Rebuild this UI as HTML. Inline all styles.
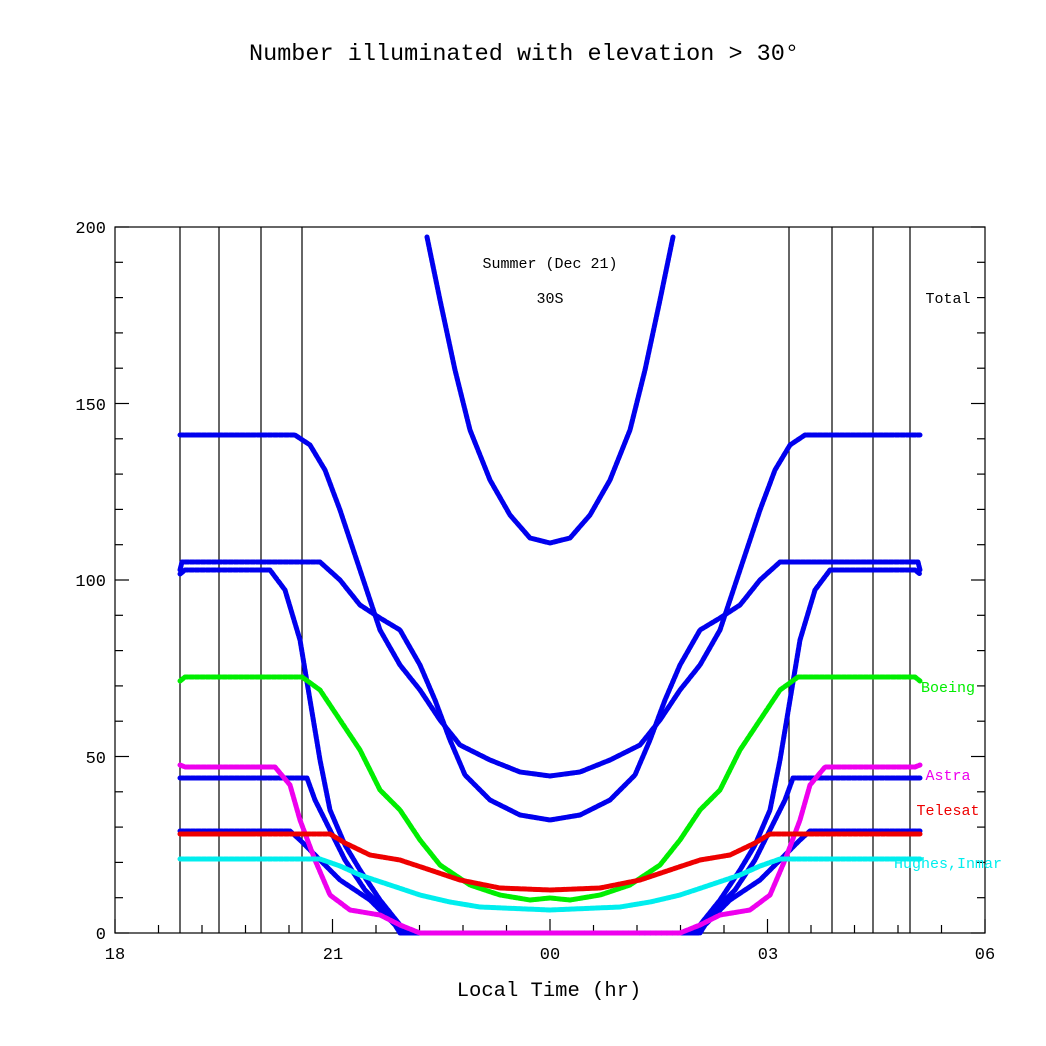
<!DOCTYPE html>
<html><head><meta charset="utf-8"><style>
html,body{margin:0;padding:0;background:#fff}
svg{display:block}
text{font-family:"Liberation Mono",monospace}
</style></head><body>
<svg id="s" width="1046" height="1046" xmlns="http://www.w3.org/2000/svg">
<rect width="1046" height="1046" fill="#fff"/>
<text x="524" y="60" font-size="23.5" text-anchor="middle">Number illuminated with elevation &gt; 30°</text>
<g id="vl" stroke="#000" stroke-width="1.2"></g>
<rect x="115" y="227" width="870" height="706" fill="none" stroke="#000" stroke-width="1.2"/>
<g id="tk" stroke="#000" stroke-width="1.2"></g>
<g font-size="17" text-anchor="end">
<text x="106" y="233">200</text><text x="106" y="410">150</text><text x="106" y="586">100</text><text x="106" y="763">50</text><text x="106" y="939">0</text>
</g>
<g font-size="17" text-anchor="middle">
<text x="115" y="959">18</text><text x="333" y="959">21</text><text x="550" y="959">00</text><text x="768" y="959">03</text><text x="985" y="959">06</text>
</g>
<text x="549" y="996" font-size="20.5" text-anchor="middle">Local Time (hr)</text>
<g font-size="15" text-anchor="middle">
<text x="550" y="268">Summer (Dec 21)</text><text x="550" y="303">30S</text>
<text x="948" y="303">Total</text>
<text x="948" y="692" fill="#00ee00">Boeing</text>
<text x="948" y="780" fill="#ee00ee">Astra</text>
<text x="948" y="815" fill="#ee0000">Telesat</text>
<text x="948" y="868" fill="#00eeee">Hughes,Inmar</text>
</g>
<g id="cv" fill="none" stroke-width="5" stroke-linejoin="round" stroke-linecap="round" stroke-dasharray="4 1.5"></g>
</svg>
<script>
var ns="http://www.w3.org/2000/svg";
function el(p,t,a){var e=document.createElementNS(ns,t);for(var k in a)e.setAttribute(k,a[k]);document.getElementById(p).appendChild(e);return e;}
[180,219,261,302,789,832,873,910].forEach(function(x){el("vl","line",{x1:x,x2:x,y1:227,y2:933});});
for(var v=0;v<=200;v+=10){var y=933-3.53*v,L=v%50==0?14:8;
el("tk","line",{x1:115,x2:115+L,y1:y,y2:y});el("tk","line",{x1:985,x2:985-L,y1:y,y2:y});}
for(var i=0;i<=20;i++){var x=115+43.5*i,L=i%5==0?14:8;
el("tk","line",{x1:x,x2:x,y1:933,y2:933-L});}
function sym(pts,c){var a=pts.slice(),b=pts.slice().reverse().map(function(p){return [1100-p[0],p[1]];});
var all=a.concat(b.slice(1));el("cv","polyline",{points:all.map(function(p){return p.join(",")}).join(" "),stroke:c});}
var B="#0000ee";
sym([[427,237],[440,300],[455,370],[470,430],[490,480],[510,515],[530,538],[550,543]],B);
sym([[180,435],[295,435],[310,445],[325,470],[340,510],[360,570],[380,630],[400,665],[420,690],[440,720],[460,745],[490,760],[520,772],[550,776]],B);
sym([[180,570],[182,562],[320,562],[340,580],[360,605],[380,618],[400,630],[420,665],[435,700],[450,740],[465,775],[490,800],[520,815],[550,820]],B);
sym([[180,574],[185,570],[270,570],[285,590],[300,640],[310,700],[320,760],[330,810],[345,845],[360,870],[380,900],[400,925],[410,933],[550,933]],B);
sym([[180,778],[307,778],[315,800],[330,830],[345,860],[365,890],[390,915],[405,933],[550,933]],B);
sym([[180,831],[290,831],[300,840],[320,860],[340,880],[370,900],[395,925],[400,933],[550,933]],B);
sym([[180,681],[185,677],[302,677],[320,690],[340,720],[360,750],[380,790],[400,810],[420,840],[440,865],[470,885],[500,895],[530,900],[550,898]],"#00ee00");
sym([[180,765],[185,767],[275,767],[290,785],[300,820],[315,860],[330,895],[350,910],[380,915],[400,925],[420,933],[550,933]],"#ee00ee");
sym([[180,834],[330,834],[345,843],[370,855],[400,860],[430,870],[460,880],[500,888],[550,890]],"#ee0000");
sym([[180,859],[320,859],[340,866],[360,875],[390,885],[420,895],[450,902],[480,907],[550,910]],"#00eeee");
</script>
</body></html>
